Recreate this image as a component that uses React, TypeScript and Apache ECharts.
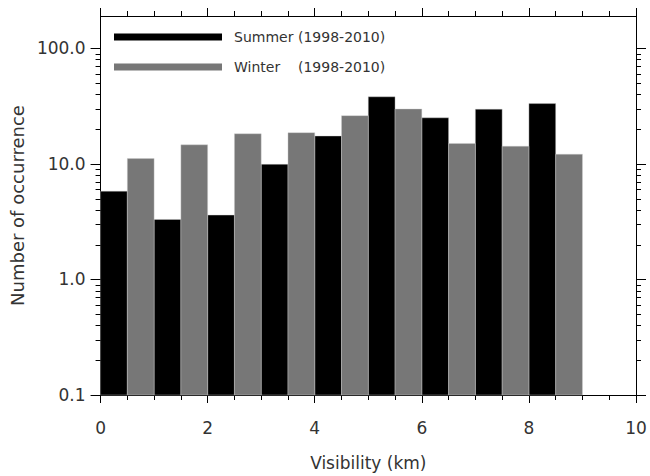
import React, { useEffect, useRef } from "react";
import * as echarts from "echarts";

const binStarts = [0, 1, 2, 3, 4, 5, 6, 7, 8];
const summerValues = [5.8, 3.3, 3.6, 9.9, 17.4, 38, 25, 29.7, 33.2];
const winterValues = [11.1, 14.6, 18.2, 18.6, 26.1, 29.8, 15.0, 14.2, 12.1];
const majorYTicks = [0.1, 1, 10, 100];
const minorYTicks = [
  0.2, 0.3, 0.4, 0.5, 0.6, 0.7, 0.8, 0.9,
  2, 3, 4, 5, 6, 7, 8, 9,
  20, 30, 40, 50, 60, 70, 80, 90,
];
const legendPeriod = "(1998-2010)";

const FONT = "'DejaVu Sans', Verdana, sans-serif";
const TEXT = "#333333";

function barItems(values: number[]) {
  return binStarts.map((s, i) => [s, values[i]]);
}

function makeXAxis(position: string, extra: any) {
  return {
    type: "value",
    gridIndex: 0,
    position,
    min: 0,
    max: 10,
    interval: 2,
    show: true,
    axisLine: { show: true, onZero: false, lineStyle: { color: "#000", width: 1 } },
    axisTick: { show: true, length: 8, inside: false, lineStyle: { color: "#000", width: 1 } },
    minorTick: { show: true, splitNumber: 4, length: 5, lineStyle: { color: "#000", width: 1 } },
    splitLine: { show: false },
    minorSplitLine: { show: false },
    ...extra,
  };
}

export default function App() {
  const ref = useRef<HTMLDivElement>(null);
  useEffect(() => {
    if (!ref.current) return;
    const chart = echarts.init(ref.current, undefined, { renderer: "svg" });

    const renderBar = (offset: number, color: string) => (params: any, api: any) => {
      const s = api.value(0) + offset;
      const v = api.value(1);
      const p1 = api.coord([s, v]);
      const p2 = api.coord([s + 0.5, 0.1]);
      return {
        type: "rect",
        shape: { x: p1[0], y: p1[1], width: p2[0] - p1[0], height: p2[1] - p1[1] },
        style: { fill: color, stroke: "#d0d0d0", lineWidth: 0.4 },
      };
    };

    const renderTicks = (params: any, api: any) => {
      const v = api.value(1);
      const len = api.value(2);
      const l = api.coord([0, v]);
      const r = api.coord([10, v]);
      const st = { stroke: "#000", lineWidth: 1 };
      const y = Math.round(l[1]) + 0.5;
      return {
        type: "group",
        children: [
          { type: "line", shape: { x1: l[0] - len, y1: y, x2: l[0], y2: y }, style: st },
          { type: "line", shape: { x1: r[0], y1: y, x2: r[0] + len, y2: y }, style: st },
        ],
      };
    };

    const tickData = [
      ...majorYTicks.map((v) => [0, v, 10]),
      ...minorYTicks.map((v) => [0, v, 5]),
    ];

    chart.setOption({
      animation: false,
      textStyle: { fontFamily: FONT },
      grid: { left: 99, right: 14, top: 16, bottom: 79, containLabel: false },
      legend: {
        orient: "vertical",
        left: 114,
        top: 30,
        padding: 0,
        itemWidth: 108,
        itemHeight: 7,
        itemGap: 16,
        selectedMode: false,
        data: [
          { name: "Summer", icon: "rect", itemStyle: { color: "#000" } },
          { name: "Winter", icon: "rect", itemStyle: { color: "#777777" } },
        ],
        formatter: (name: string) => `{n|${name}}{p|${legendPeriod}}`,
        textStyle: {
          fontFamily: FONT,
          color: TEXT,
          fontSize: 14,
          padding: [0, 0, 0, 7],
          rich: {
            n: { width: 64, fontSize: 14, lineHeight: 16, fontFamily: FONT, color: TEXT },
            p: { fontSize: 14, lineHeight: 16, fontFamily: FONT, color: TEXT },
          },
        },
      },
      xAxis: [
        makeXAxis("bottom", {
          name: "Visibility (km)",
          nameLocation: "middle",
          nameGap: 59,
          nameTextStyle: { fontSize: 17, color: TEXT, fontFamily: FONT },
          axisLabel: { show: true, margin: 24, fontSize: 17, color: TEXT, fontFamily: FONT },
        }),
        makeXAxis("top", { axisLabel: { show: false } }),
      ],
      yAxis: [
        {
          type: "log",
          logBase: 10,
          min: 0.1,
          max: 190,
          position: "left",
          axisLine: { show: true, onZero: false, lineStyle: { color: "#000", width: 1 } },
          axisTick: { show: false },
          splitLine: { show: false },
          name: "Number of occurrence",
          nameLocation: "middle",
          nameGap: 63,
          nameRotate: 90,
          nameTextStyle: { fontSize: 18, color: TEXT, fontFamily: FONT },
          axisLabel: {
            show: true,
            margin: 15,
            fontSize: 17,
            color: TEXT,
            fontFamily: FONT,
            showMaxLabel: false,
            formatter: (v: number) => {
              const l = Math.log10(v);
              return Math.abs(l - Math.round(l)) < 1e-6 ? v.toFixed(1) : "";
            },
          },
        },
        {
          type: "log",
          logBase: 10,
          min: 0.1,
          max: 190,
          position: "right",
          axisLine: { show: true, onZero: false, lineStyle: { color: "#000", width: 1 } },
          axisTick: { show: false },
          axisLabel: { show: false },
          splitLine: { show: false },
        },
      ],
      series: [
        {
          name: "Summer",
          type: "custom",
          xAxisIndex: 0,
          yAxisIndex: 0,
          itemStyle: { color: "#000" },
          renderItem: renderBar(0, "#000000"),
          encode: { x: 0, y: 1 },
          data: barItems(summerValues),
          z: 2,
        },
        {
          name: "Winter",
          type: "custom",
          xAxisIndex: 0,
          yAxisIndex: 0,
          itemStyle: { color: "#777777" },
          renderItem: renderBar(0.5, "#777777"),
          encode: { x: 0, y: 1 },
          data: barItems(winterValues),
          z: 2,
        },
        {
          name: "ticks",
          type: "custom",
          xAxisIndex: 0,
          yAxisIndex: 0,
          clip: false,
          renderItem: renderTicks,
          encode: { x: 0, y: 1 },
          data: tickData,
          silent: true,
          z: 5,
        },
      ],
    });
    return () => chart.dispose();
  }, []);

  return (
    <div
      ref={ref}
      style={{ position: "absolute", left: 0, top: 0, width: 650, height: 476, background: "#fff" }}
    />
  );
}
